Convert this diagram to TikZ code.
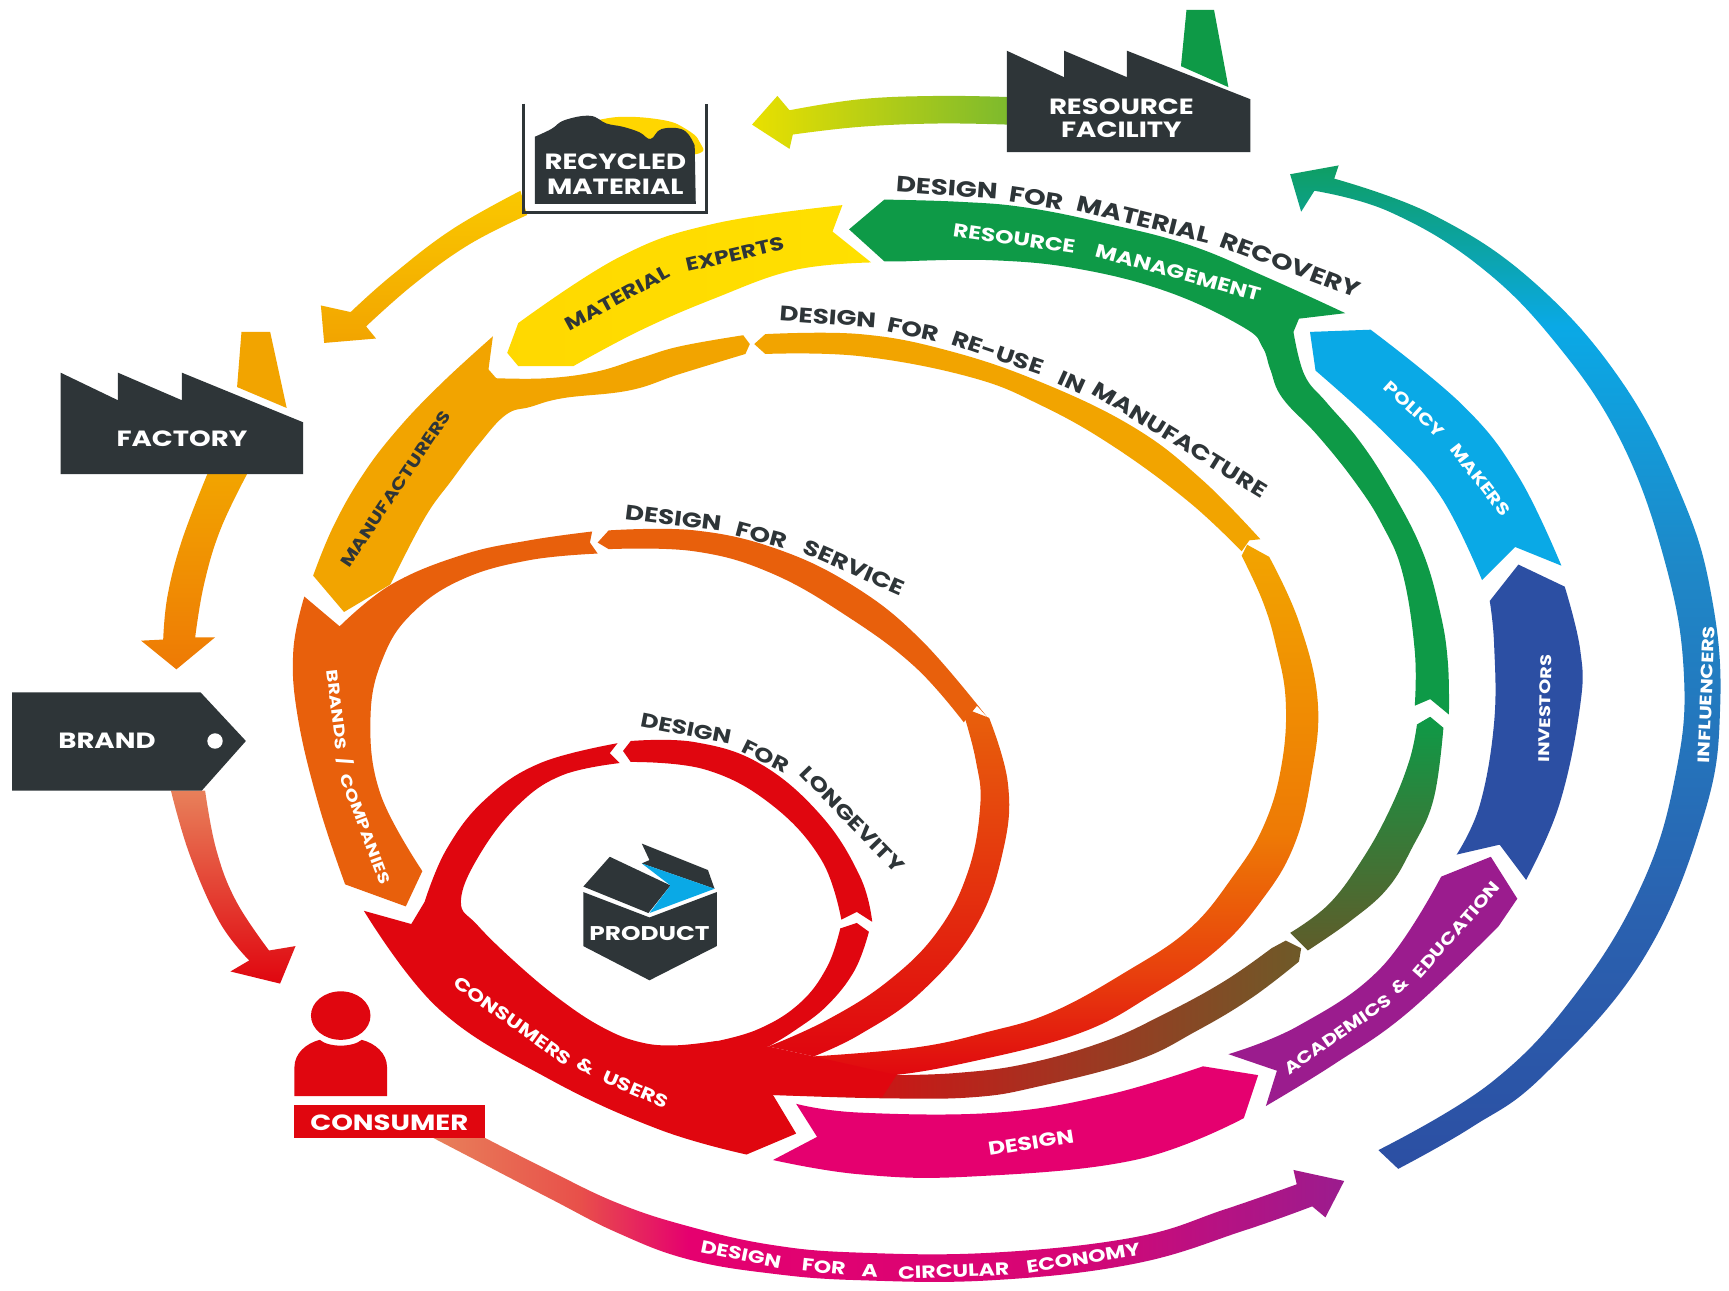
\documentclass[tikz,border=0pt]{standalone}
\usepackage{fontspec}
\setmainfont{Poppins}
\newfontfamily\lab{Poppins}[UprightFont=* Bold,FakeStretch=1.25]
\definecolor{ink}{HTML}{2E3538}
\definecolor{amb}{HTML}{F2A400}
\definecolor{yel}{HTML}{FFE000}
\definecolor{grn}{HTML}{0E9A47}
\definecolor{lbl}{HTML}{0AA9E6}
\definecolor{inv}{HTML}{2C4FA3}
\definecolor{pur}{HTML}{9B1C8E}
\definecolor{mag}{HTML}{E5006F}
\definecolor{red1}{HTML}{E0060F}
\definecolor{ora}{HTML}{E8600C}
\definecolor{salm}{HTML}{E8805A}
\definecolor{salr}{HTML}{E8504A}
\definecolor{oli}{HTML}{5F5C2A}
\definecolor{brw}{HTML}{A83020}
\definecolor{brn}{HTML}{6E5A28}
\definecolor{lime}{HTML}{7DBA2D}
\definecolor{lemon}{HTML}{E9E000}
\definecolor{oro}{HTML}{EE7A05}
\definecolor{orr}{HTML}{E8400D}
\definecolor{infm}{HTML}{1E88C8}
\definecolor{infl}{HTML}{2A62B0}
\definecolor{infg}{HTML}{0E9E63}
\pgfdeclareverticalshading{inflsh}{100bp}{color(0bp)=(inv); color(25bp)=(inv); color(38bp)=(infl); color(55bp)=(infm); color(67bp)=(lbl); color(75bp)=(infg); color(100bp)=(infg)}
\pgfdeclareverticalshading{reusesh}{100bp}{color(0bp)=(red1); color(25bp)=(red1); color(35bp)=(orr); color(48bp)=(oro); color(75bp)=(amb); color(100bp)=(amb)}
\pgfdeclarehorizontalshading{recls}{100bp}{color(0bp)=(red1); color(25bp)=(red1); color(50bp)=(brw); color(75bp)=(brn); color(100bp)=(brn)}
\pgfdeclarehorizontalshading{cesh}{100bp}{color(0bp)=(salm); color(25bp)=(salm); color(33bp)=(salr); color(39bp)=(mag); color(60bp)=(mag!80!pur); color(75bp)=(pur); color(100bp)=(pur)}
\tikzset{
  dark/.style={fill=ink,draw=none},
  boxlabel/.style={font=\lab\fontsize{20}{24}\selectfont,text=white,align=center,inner sep=0pt},
  wdark/.style={sloped,allow upside down,inner sep=0pt,text=ink,font=\lab\fontsize{#1}{#1}\selectfont},
  wlite/.style={sloped,allow upside down,inner sep=0pt,text=white,font=\lab\fontsize{#1}{#1}\selectfont}
}
\begin{document}
\begin{tikzpicture}[x=1pt,y=-1pt,tension=.68]
\useasboundingbox[fill=white] (0,0) rectangle (1568,1170);

% ---- outer flow arrows
\shade[left color=lemon,right color=lime] plot[smooth] coordinates {(914,88) (850,87) (780,90) (716,100)} -- (705,87) -- (682,113) -- (716,135) -- plot[smooth] coordinates {(719,122) (780,115) (850,112) (914,113)} -- cycle;
\shade[top color=yel!60!amb,bottom color=amb] plot[smooth] coordinates {(472,173) (410,208) (355,250) (318,283)} -- (291,277) -- (294,311) -- (341,307) -- plot[smooth] coordinates {(332,296) (375,258) (425,222) (478,195)} -- cycle;
\shade[top color=amb,bottom color=oro] plot[smooth] coordinates {(188,430) (165,490) (152,540) (148,580)} -- (128,581) -- (160,607) -- (195,578) -- plot[smooth] coordinates {(177,578) (185,530) (200,480) (224,430)} -- cycle;
\shade[top color=salm,bottom color=red1] plot[smooth] coordinates {(155,717) (172,775) (199,836) (226,871)} -- (209,881) -- (254,892) -- (268,858) -- plot[smooth] coordinates {(244,862) (214,817) (196,770) (186,717)} -- cycle;
\shade[shading=cesh] plot[smooth] coordinates {(440,1032) (497,1061) (560,1091) (624,1112) (700,1129) (780,1136) (900,1136) (1029,1122) (1110,1097) (1176,1074)} -- (1173,1061) -- (1219,1071) -- (1202,1104) -- plot[smooth] coordinates {(1190,1094) (1128,1116) (1029,1146) (900,1161) (780,1161) (700,1155) (624,1142) (560,1118) (497,1086) (393,1032)} -- cycle;
\shade[shading=inflsh] plot[smooth] coordinates {(1210,162) (1300,195) (1390,255) (1470,345) (1525,450) (1552,540) (1560,640) (1545,740) (1490,870) (1400,975) (1335,1022) (1268,1060)} -- plot[smooth] coordinates {(1250,1043) (1352,982) (1430,900) (1490,800) (1520,700) (1527,610) (1510,510) (1470,400) (1410,310) (1340,240) (1260,192) (1192,173)} -- (1180,192) -- (1170,158) -- (1214,150) -- cycle;

% ---- stakeholder ribbons
\fill[lbl] (1188,301) -- (1243,299) -- plot[smooth] coordinates {(1243,299) (1327,368) (1377,432) (1416,513)} -- (1374,496) -- (1344,526) -- plot[smooth] coordinates {(1344,526) (1307,451) (1258,395) (1193,336)} -- cycle;
\fill[inv] (1377,512) -- (1419,532) -- plot[smooth] coordinates {(1419,532) (1433,589) (1433,640) (1414,730) (1384,798)} -- (1360,766) -- (1321,775) -- plot[smooth] coordinates {(1321,775) (1342,730) (1355,655) (1355,585) (1351,545)} -- cycle;
\fill[pur] (1352,777) -- (1376,815) -- (1359,840) -- plot[smooth] coordinates {(1359,840) (1277,918) (1210,965) (1148,1003)} -- (1158,971) -- (1114,956) -- plot[smooth] coordinates {(1114,956) (1178,930) (1253,877) (1307,795)} -- cycle;
\fill[mag] (1091,967) -- (1141,975) -- (1128,1014) -- plot[smooth] coordinates {(1128,1014) (1029,1052) (880,1067) (780,1065) (701,1052)} -- (741,1031) -- (722,1001) -- plot[smooth] coordinates {(722,1001) (780,1009) (904,1009) (1004,993) (1091,967)} -- cycle;

% ---- resource management and recovery strand
\fill[grn] (770,208) -- (802,181) -- plot[smooth] coordinates {(802,181) (870,183) (929,188) (1000,202) (1078,222) (1150,252) (1220,284)} -- (1178,289) -- plot[smooth] coordinates {(1173,301) (1183,340) (1203,365) (1233,400) (1262,445) (1290,500) (1306,555) (1313,600) (1314,648)} -- (1297,634) -- (1283,640) -- plot[smooth] coordinates {(1283,640) (1283,590) (1272,520) (1253,475) (1228,436) (1195,395) (1163,361) (1152,335) (1145,315) (1128,297) (1060,265) (979,244) (900,236) (820,237)} -- (802,237) -- cycle;
\shade[top color=grn,bottom color=oli] (1297,650) -- (1309,660) -- plot[smooth] coordinates {(1309,660) (1300,725) (1280,770) (1258,806) (1225,835) (1186,862)} -- (1170,846) -- plot[smooth] coordinates {(1170,846) (1205,820) (1235,780) (1260,735) (1278,690) (1285,657)} -- cycle;
\shade[shading=recls] (1166,853) -- (1180,860) -- (1178,872) -- plot[smooth] coordinates {(1178,872) (1135,905) (1085,935) (1030,962) (943,985) (883,995) (800,996) (701,993)} -- (701,975) -- plot[smooth] coordinates {(813,975) (868,973) (929,965) (1000,945) (1055,920) (1110,890) (1153,860)} -- cycle;

% ---- yellow and amber
\shade[left color=yel!92!orange,right color=yel] plot[smooth] coordinates {(470,293) (562,233) (647,203) (764,186)} -- (755,210) -- (790,238) -- plot[smooth] coordinates {(790,238) (720,245) (647,271) (580,300) (520,332)} -- (470,332) -- (460,320) -- cycle;
\fill[amb] (447,305) -- (443,335) -- (450,343) -- plot[smooth] coordinates {(450,343) (496,343) (541,337) (580,325) (617,314) (674,304)} -- (680,312) -- (676,321) -- plot[smooth] coordinates {(676,321) (617,339) (571,354) (511,361) (481,369) (459,376) (435,402) (410,435) (385,470) (354,530)} -- (312,555) -- (284,522) -- plot[smooth] coordinates {(284,522) (302,478) (328,432) (360,390) (400,348) (447,305)} -- cycle;
\fill[amb] (684,312) -- (694,303) -- plot[smooth] coordinates {(694,303) (780,303) (860,318) (945,347) (1029,388) (1090,435) (1143,489)} -- (1133,490) -- (1126,500) -- plot[smooth] coordinates {(1126,500) (1078,455) (1010,405) (945,368) (880,342) (780,323) (694,321)} -- cycle;
\shade[shading=reusesh] (1131,494) -- (1151,505) -- plot[smooth] coordinates {(1151,505) (1178,564) (1195,636) (1189,705) (1173,768) (1143,818) (1103,862) (1045,902) (979,937) (880,963) (800,976) (738,975)} -- (738,958) -- plot[smooth] coordinates {(738,958) (830,950) (895,936) (954,918) (1020,882) (1078,843) (1118,795) (1146,749) (1162,695) (1166,636) (1157,585) (1145,545) (1126,504)} -- cycle;

% ---- service ring and brands
\fill[ora] (276,541) -- (308,568) -- plot[smooth] coordinates {(308,568) (355,530) (420,503) (480,490) (537,482)} -- (535,492) -- (542,502) -- plot[smooth] coordinates {(542,502) (480,508) (420,525) (375,555) (348,595) (336,650) (345,720) (383,790)} -- (368,822) -- (313,802) -- plot[smooth] coordinates {(313,802) (289,730) (270,650) (266,590) (276,541)} -- cycle;
\fill[ora] (542,492) -- (552,481) -- plot[smooth] coordinates {(552,481) (630,481) (705,498) (775,532) (835,580) (895,650)} -- (886,640) -- (874,655) -- plot[smooth] coordinates {(874,655) (830,605) (770,560) (700,520) (630,500) (552,498)} -- cycle;
\shade[top color=ora,bottom color=red1] (879,644) -- (897,651) -- plot[smooth] coordinates {(897,651) (914,710) (910,770) (885,840) (835,900) (780,938) (738,958)} -- (697,949) -- plot[smooth] coordinates {(697,949) (750,925) (805,890) (850,845) (878,790) (889,730) (885,690) (875,651)} -- cycle;

% ---- longevity ring and consumers body
\fill[red1] (572,672) -- plot[smooth] coordinates {(572,672) (630,673) (690,693) (745,740) (780,795) (791,836)} -- (777,827) -- (763,834) -- plot[smooth] coordinates {(763,834) (745,780) (700,730) (640,698) (572,691)} -- (565,681) -- cycle;
\fill[red1] (777,837) -- (788,845) -- plot[smooth] coordinates {(788,845) (775,880) (750,912) (720,935) (697,949)} -- (641,960) -- (641,946) -- plot[smooth] coordinates {(641,946) (686,934) (725,910) (750,877) (762,842)} -- cycle;
\fill[red1] (330,826) -- (373,838) -- (385,818) -- plot[smooth] coordinates {(385,818) (405,770) (440,725) (490,692) (560,674)} -- (553,683) -- (562,692) -- plot[smooth] coordinates {(562,692) (510,703) (470,730) (435,775) (418,817) (433,839) (470,875) (510,908) (547,932) (580,945) (612,948) (650,944)} -- (697,949) -- (738,958) -- (813,975) -- (800,995) -- (701,993) -- (722,1028) -- (677,1047) -- plot[smooth] coordinates {(677,1047) (597,1024) (497,978) (398,915) (330,826)} -- cycle;

% ---- factory
\fill[amb] (219,301) -- (245,301) -- (260,370) -- (215,351) -- cycle;
\fill[dark] (55,338) -- (107,363) -- (107,338) -- (165,363) -- (165,338) -- (275,383) -- (275,430) -- (55,430) -- cycle;
\node[boxlabel] (factory) at (165,398) {FACTORY};

% ---- resource facility
\fill[grn] (1076,9) -- (1101,9) -- (1114,79) -- (1071,60) -- cycle;
\fill[dark] (913,46) -- (965,70) -- (965,46) -- (1022,70) -- (1022,46) -- (1134,90) -- (1134,138) -- (913,138) -- cycle;
\node[boxlabel] (facility) at (1017,107) {RESOURCE\\[-3pt]FACILITY};

% ---- recycled material
\fill[yel!90!orange] plot[smooth] coordinates {(530,112) (562,106) (602,109) (622,117) (634,128) (630,140) (560,140)} -- cycle;
\fill[dark] (485,185) -- plot[smooth] coordinates {(485,124) (500,117) (512,109) (535,105) (550,112) (565,115) (580,120) (590,126) (600,117) (620,118) (630,132)} -- (631,185) -- cycle;
\draw[ink,line width=3pt] (475,94) -- (475,193) -- (641,193) -- (641,94);
\node[boxlabel] (recycled) at (558,158) {RECYCLED\\[-2pt]MATERIAL};

% ---- brand
\fill[dark] (11,628) -- (182,628) -- (223,672) -- (183,717) -- (11,717) -- cycle;
\node[boxlabel] (brand) at (97,672) {BRAND};
\fill[white] (195,672) ellipse [x radius=7,y radius=7];

% ---- consumer
\fill[red1] (309,921) ellipse [x radius=27,y radius=22];
\fill[red1] (267,994) -- (267,968) .. controls (267,955) and (278,946) .. (290,943) .. controls (298,950) and (320,950) .. (328,943) .. controls (340,946) and (351,955) .. (351,968) -- (351,994) -- cycle;
\fill[red1] (267,1002) rectangle (440,1032);
\node[boxlabel] (consumer) at (353,1018) {CONSUMER};

% ---- product
\fill[dark] (529,809) -- (589,832) -- (650,809) -- (650,858) -- (589,889) -- (529,858) -- cycle;
\fill[dark] (529,804) -- (553,777) -- (608,803) -- (588,828) -- cycle;
\fill[dark] (582,765) -- (642,789) -- (648,806) -- (582,783) -- (589,780) -- cycle;
\fill[lbl] (582,783) -- (648,806) -- (589,828) -- (608,803) -- cycle;
\node[boxlabel,font=\lab\fontsize{18}{20}\selectfont] (product) at (589,847) {PRODUCT};

% ---- ribbon labels, word by word along their curves
\path (815,168) .. controls (950,172) and (1095,205) .. (1228,264)
  node[wdark=20,pos=.107] (r1) {DESIGN} node[wdark=20,pos=.304] (r2) {FOR} node[wdark=20,pos=.536] (r3) {MATERIAL} node[wdark=20,pos=.857] (r4) {RECOVERY};
\path (860,209) .. controls (955,218) and (1050,238) .. (1142,270)
  node[wlite=17,pos=.21] (m1) {RESOURCE} node[wlite=17,pos=.737] (m2) {MANAGEMENT};
\path (512,301) .. controls (575,255) and (640,232) .. (714,222)
  node[wdark=17,pos=.25] (e1) {MATERIAL} node[wdark=17,pos=.78] (e2) {EXPERTS};
\path (708,286) .. controls (860,285) and (1010,350) .. (1138,445)
  node[wdark=19,pos=.094] (u1) {DESIGN} node[wdark=19,pos=.266] (u2) {FOR} node[wdark=19,pos=.438] (u3) {RE-USE} node[wdark=19,pos=.594] (u4) {IN} node[wdark=19,pos=.828] (u5) {MANUFACTURE};
\path (322,515) .. controls (340,465) and (372,420) .. (412,378)
  node[wdark=15,pos=.5] (f1) {MANUFACTURERS};
\path (566,466) .. controls (655,470) and (745,495) .. (820,537)
  node[wdark=19,pos=.167] (s1) {DESIGN} node[wdark=19,pos=.472] (s2) {FOR} node[wdark=19,pos=.806] (s3) {SERVICE};
\path (580,656) .. controls (675,660) and (762,712) .. (812,793)
  node[wdark=18,pos=.15] (l1) {DESIGN} node[wdark=18,pos=.425] (l2) {FOR} node[wdark=18,pos=.775] (l3) {LONGEVITY};
\path (303,612) .. controls (306,675) and (322,740) .. (350,794)
  node[wlite=14,pos=.167] (b1) {BRANDS} node[wlite=14,pos=.417] (b2) {/} node[wlite=14,pos=.75] (b3) {COMPANIES};
\path (418,888) .. controls (475,940) and (540,975) .. (606,1000)
  node[wlite=16,pos=.265] (c1) {CONSUMERS} node[wlite=16,pos=.618] (c2) {\&} node[wlite=16,pos=.85] (c3) {USERS};
\path (1255,348) .. controls (1295,380) and (1335,420) .. (1364,466)
  node[wlite=15,pos=.23] (p1) {POLICY} node[wlite=15,pos=.77] (p2) {MAKERS};
\path (1397,692) .. controls (1402,660) and (1402,625) .. (1400,595)
  node[wlite=14,pos=.5] (i1) {INVESTORS};
\path (1168,967) .. controls (1240,925) and (1305,870) .. (1355,800)
  node[wlite=15,pos=.214] (a1) {ACADEMICS} node[wlite=15,pos=.5] (a2) {\&} node[wlite=15,pos=.786] (a3) {EDUCATION};
\path (893,1042) .. controls (920,1039) and (950,1034) .. (977,1029)
  node[wlite=17,pos=.5] (d1) {DESIGN};
\path (1543,692) .. controls (1547,650) and (1549,610) .. (1548,568)
  node[wlite=15,pos=.5] (n1) {INFLUENCERS};
\path (632,1128) .. controls (760,1162) and (900,1160) .. (1030,1132)
  node[wlite=16,pos=.103] (x1) {DESIGN} node[wlite=16,pos=.293] (x2) {FOR} node[wlite=16,pos=.397] (x3) {A} node[wlite=16,pos=.586] (x4) {CIRCULAR} node[wlite=16,pos=.879] (x5) {ECONOMY};
\end{tikzpicture}
\end{document}
